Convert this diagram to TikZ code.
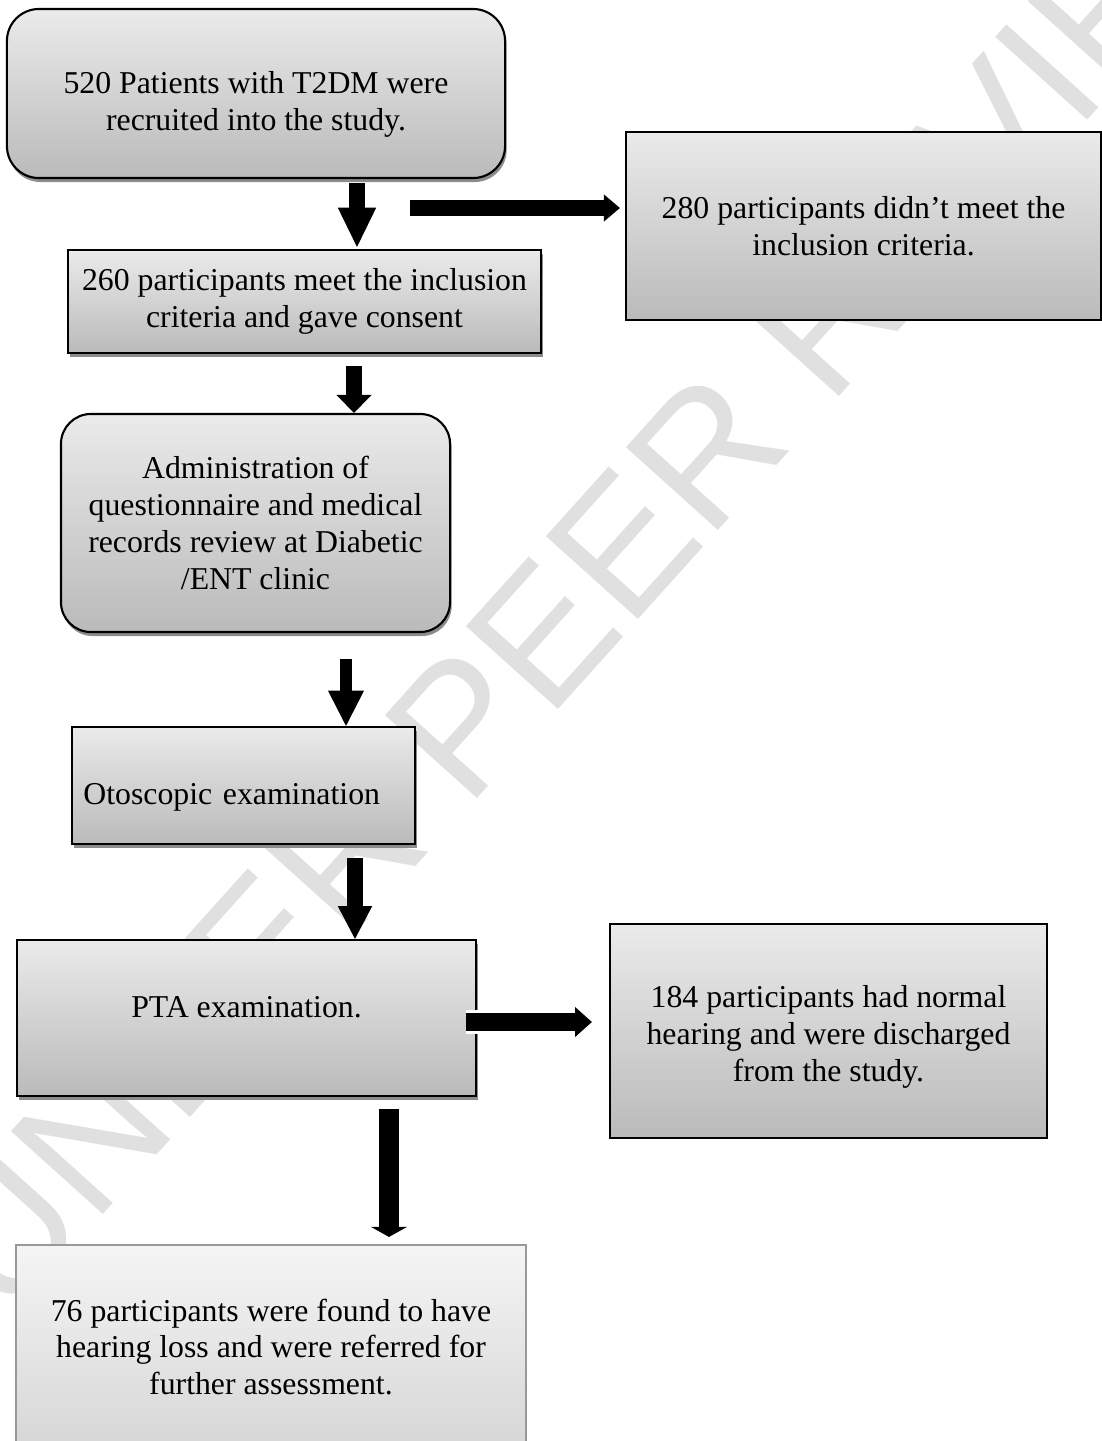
\documentclass[tikz,border=0pt]{standalone}
\usepackage{fontspec}
\setmainfont{Liberation Serif}
\newfontfamily\wmfont{Liberation Sans}
\usetikzlibrary{arrows.meta,calc,shadows}

\begin{document}
\begin{tikzpicture}[x=0.0125cm,y=-0.0125cm,
  stage/.style={draw,rectangle,line width=0.75pt,top color=black!8,bottom color=black!27,font=\fontsize{11.3}{13.1}\selectfont,align=center,inner sep=2pt},
  boxshadow/.style={general shadow={fill=black!45,shadow xshift=0.02cm,shadow yshift=-0.05cm}},
  roundbox/.style={stage,boxshadow,rounded corners=0.4cm},
  plainbox/.style={stage,boxshadow},
  flatbox/.style={stage},
  lastbox/.style={stage,draw=black!40,top color=black!4,bottom color=black!16},
  arr/.style={line width=0.19cm,-{Triangle[length=0.45cm,width=0.45cm,line width=0pt]}},
  wmark/.style={font=\fontsize{64}{64}\selectfont\wmfont,text=black!12,rotate=48}
]
\useasboundingbox (0,0) rectangle (1102,1441);

% Watermark
\node[wmark] (wm) at (610,560) {UNDER PEER REVIEW};

% Flow boxes
\node[roundbox,minimum width=6.225cm,minimum height=2.1125cm] (recruit) at (256,93.5) {\rule{0pt}{0.545cm}520 Patients with T2DM were\\recruited into the study.};
\node[plainbox,minimum width=5.9125cm,minimum height=1.2875cm] (incl) at (304.5,301.5) {260 participants meet the inclusion\\criteria and gave consent};
\node[flatbox,minimum width=5.9375cm,minimum height=2.35cm] (excl) at (863.5,226) {280 participants didn’t meet the\\inclusion criteria.};
\node[roundbox,rounded corners=0.375cm,minimum width=4.8625cm,minimum height=2.725cm] (admin) at (255.5,523) {Administration of\\questionnaire and medical\\records review at Diabetic\\/ENT clinic};
\node[plainbox,minimum width=4.2875cm,minimum height=1.4625cm,text width=4.0cm,align=left] (oto) at (243.5,785.5) {\rule{0pt}{0.57cm}Otoscopic examination};
\node[plainbox,minimum width=5.7375cm,minimum height=1.95cm] (pta) at (246.5,1018) {PTA examination.\rule[-0.27cm]{0pt}{0.27cm}};
\node[flatbox,minimum width=5.4625cm,minimum height=2.675cm] (normal) at (828.5,1031) {\rule{0pt}{0.42cm}184 participants had normal\\hearing and were discharged\\from the study.};
\node[lastbox,minimum width=6.375cm,minimum height=2.55cm] (loss) at (271,1347) {76 participants were found to have\\hearing loss and were referred for\\further assessment.};

% Split point of the exclusion arrow
\coordinate (split) at (410,208);

% Arrows
\draw[arr,-{Triangle[length=0.49cm,width=0.48cm,line width=0pt]}] ($(recruit.south)+(101,4)$) -- ($(incl.north)+(52.5,-2)$);
\draw[arr,line width=0.2cm,-{Triangle[length=0.2cm,width=0.34cm,line width=0pt]}] (split) -- ($(excl.west)+(-5,-18)$);
\draw[arr,-{Triangle[length=0.225cm,width=0.44cm,line width=0pt]}] ($(incl.south)+(49.5,12)$) -- ($(admin.north)+(98.5,0)$);
\draw[arr,line width=0.16cm,-{Triangle[length=0.44cm,width=0.45cm,line width=0pt]}] ($(admin.south)+(90.5,26)$) -- ($(oto.north)+(102.5,0)$);
\draw[arr,line width=0.21cm,-{Triangle[length=0.41cm,width=0.43cm,line width=0pt]}] ($(oto.south)+(111.5,13)$) -- ($(pta.north)+(108.5,0)$);
\draw[arr,line width=0.22cm,preaction={draw=white,line width=0.3cm,-},-{Triangle[length=0.21cm,width=0.375cm,line width=0pt]}] ($(pta.east)+(-11,4)$) -- ($(normal.west)+(-17,-9)$);
\draw[arr,line width=0.26cm,-{Triangle[length=0.125cm,width=0.45cm,line width=0pt,round]}] ($(pta.south)+(142.5,12)$) -- ($(loss.north)+(118,-7)$);

\end{tikzpicture}
\end{document}
